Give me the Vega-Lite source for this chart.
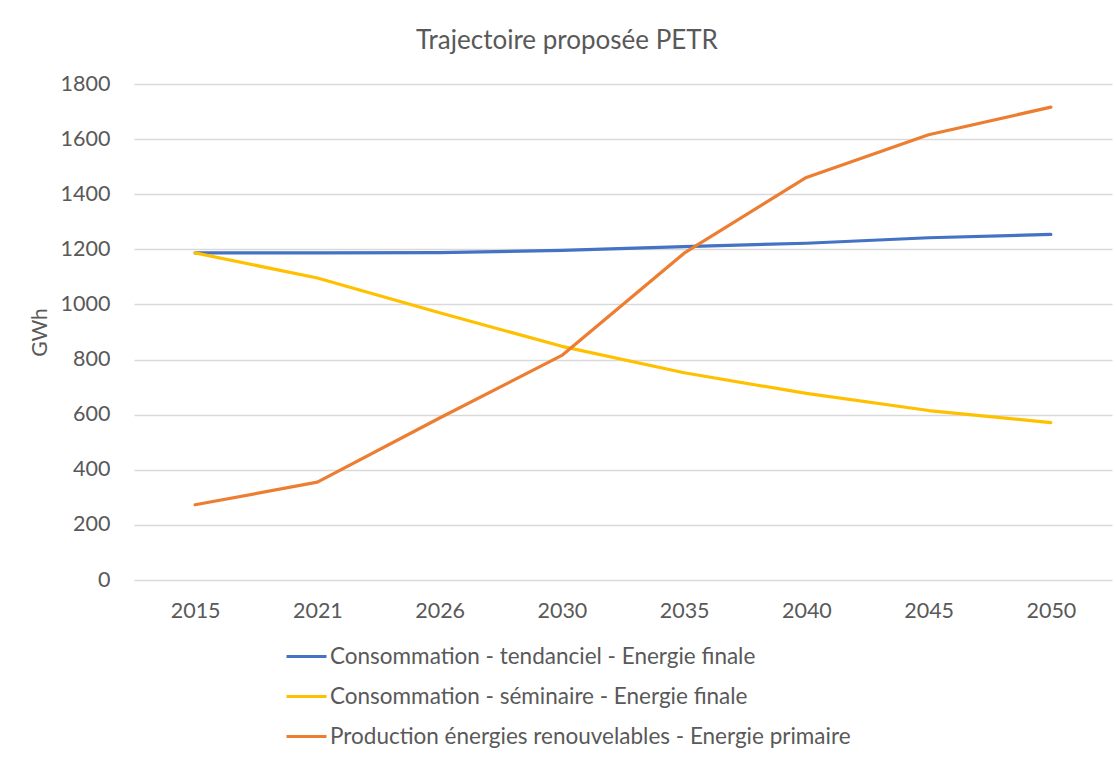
{
  "$schema": "https://vega.github.io/schema/vega-lite/v6.json",
  "autosize": {"type": "none"},
  "padding": {"left": 134, "top": 84, "right": 4, "bottom": 178},
  "width": 978,
  "height": 496,
  "background": "white",
  "title": {"text": "Trajectoire proposée PETR", "font": "Lato", "fontSize": 26, "fontWeight": "normal", "color": "#595959", "anchor": "middle", "dx": -56, "offset": 19},
  "data": {"values": [
    {"annee": "2015", "serie": "Consommation - tendanciel - Energie finale", "gwh": 1187},
    {"annee": "2021", "serie": "Consommation - tendanciel - Energie finale", "gwh": 1187},
    {"annee": "2026", "serie": "Consommation - tendanciel - Energie finale", "gwh": 1188},
    {"annee": "2030", "serie": "Consommation - tendanciel - Energie finale", "gwh": 1196},
    {"annee": "2035", "serie": "Consommation - tendanciel - Energie finale", "gwh": 1210},
    {"annee": "2040", "serie": "Consommation - tendanciel - Energie finale", "gwh": 1222},
    {"annee": "2045", "serie": "Consommation - tendanciel - Energie finale", "gwh": 1242},
    {"annee": "2050", "serie": "Consommation - tendanciel - Energie finale", "gwh": 1254},
    {"annee": "2015", "serie": "Consommation - séminaire - Energie finale", "gwh": 1187},
    {"annee": "2021", "serie": "Consommation - séminaire - Energie finale", "gwh": 1096},
    {"annee": "2026", "serie": "Consommation - séminaire - Energie finale", "gwh": 970},
    {"annee": "2030", "serie": "Consommation - séminaire - Energie finale", "gwh": 848},
    {"annee": "2035", "serie": "Consommation - séminaire - Energie finale", "gwh": 752},
    {"annee": "2040", "serie": "Consommation - séminaire - Energie finale", "gwh": 677},
    {"annee": "2045", "serie": "Consommation - séminaire - Energie finale", "gwh": 615},
    {"annee": "2050", "serie": "Consommation - séminaire - Energie finale", "gwh": 571},
    {"annee": "2015", "serie": "Production énergies renouvelables - Energie primaire", "gwh": 273},
    {"annee": "2021", "serie": "Production énergies renouvelables - Energie primaire", "gwh": 355},
    {"annee": "2026", "serie": "Production énergies renouvelables - Energie primaire", "gwh": 588},
    {"annee": "2030", "serie": "Production énergies renouvelables - Energie primaire", "gwh": 815},
    {"annee": "2035", "serie": "Production énergies renouvelables - Energie primaire", "gwh": 1186},
    {"annee": "2040", "serie": "Production énergies renouvelables - Energie primaire", "gwh": 1461},
    {"annee": "2045", "serie": "Production énergies renouvelables - Energie primaire", "gwh": 1616},
    {"annee": "2050", "serie": "Production énergies renouvelables - Energie primaire", "gwh": 1716}
  ]},
  "mark": {"type": "line", "strokeWidth": 3.2, "strokeCap": "round", "strokeJoin": "round"},
  "encoding": {
    "x": {
      "field": "annee", "type": "ordinal", "sort": null,
      "scale": {"type": "point", "padding": 0.5},
      "axis": {"title": null, "domain": false, "ticks": false, "grid": false, "labelAngle": 0, "labelPadding": 20, "labelFont": "Lato", "labelFontSize": 21.5, "labelColor": "#595959"}
    },
    "y": {
      "field": "gwh", "type": "quantitative",
      "scale": {"domain": [0, 1800], "nice": false},
      "axis": {"values": [0, 200, 400, 600, 800, 1000, 1200, 1400, 1600, 1800], "format": "d", "title": "GWh", "domain": false, "ticks": false, "labelPadding": 24, "labelFont": "Lato", "labelFontSize": 21.5, "labelColor": "#595959", "gridColor": "#d9d9d9", "gridWidth": 1.3, "titleFont": "Lato", "titleFontSize": 21, "titleFontWeight": "normal", "titleColor": "#595959", "titlePadding": 10}
    },
    "color": {
      "field": "serie", "type": "nominal",
      "sort": ["Consommation - tendanciel - Energie finale", "Consommation - séminaire - Energie finale", "Production énergies renouvelables - Energie primaire"],
      "scale": {"domain": ["Consommation - tendanciel - Energie finale", "Consommation - séminaire - Energie finale", "Production énergies renouvelables - Energie primaire"], "range": ["#4472C4", "#FFC000", "#ED7D31"]},
      "legend": {"title": null, "orient": "none", "legendX": 151, "legendY": 551, "direction": "vertical", "symbolType": "stroke", "symbolSize": 1600, "symbolStrokeWidth": 3, "labelFont": "Lato", "labelFontSize": 22.5, "labelColor": "#595959", "labelOffset": 2, "rowPadding": 7, "labelLimit": 900}
    }
  },
  "config": {"view": {"stroke": null}}
}
